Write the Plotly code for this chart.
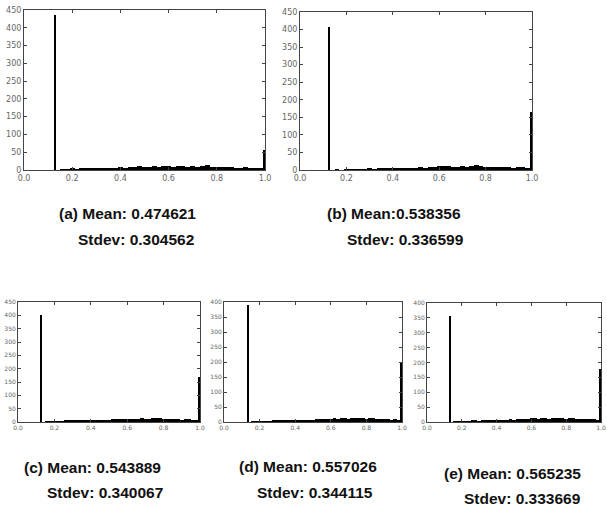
import numpy as np
import plotly.graph_objects as go

# ---------------- data ----------------
panels = ["a", "b", "c", "d", "e"]
means = ["0.474621", "0.538356", "0.543889", "0.557026", "0.565235"]
stdevs = ["0.304562", "0.336599", "0.340067", "0.344115", "0.333669"]

spike_pos = [0.13, 0.125, 0.13, 0.135, 0.135]
spike_count = [437, 408, 403, 390, 355]
edge_count = [57, 165, 168, 200, 177]
ymax = [450, 450, 450, 400, 400]

# low-level counts, bins of width 0.02 starting at 0.15
noise_a = [2, 1, 3, 2, 4, 3, 5, 4, 6, 5, 7, 6, 8, 7, 9, 8, 10, 8, 9, 11, 9, 10,
           12, 9, 11, 10, 9, 11, 9, 10, 13, 9, 9, 8, 9, 8, 7, 6, 8, 6, 7, 6]
noise_b = [1, 0, 2, 1, 2, 1, 2, 3, 2, 3, 4, 3, 4, 5, 4, 6, 5, 7, 9, 7, 9, 8,
           11, 12, 10, 9, 9, 11, 9, 10, 13, 10, 9, 9, 8, 9, 8, 9, 7, 8, 9, 6]
noise_c = [2, 1, 3, 2, 3, 4, 4, 5, 6, 5, 7, 6, 7, 8, 7, 9, 8, 9, 10, 10, 11, 10,
           12, 12, 11, 12, 14, 12, 13, 14, 16, 14, 12, 12, 11, 10, 11, 9, 10, 12, 9, 9]
noise_d = [1, 2, 1, 3, 2, 3, 4, 4, 5, 6, 5, 6, 7, 6, 8, 7, 8, 8, 10, 9, 10, 10,
           11, 12, 11, 13, 12, 11, 13, 12, 13, 12, 11, 12, 13, 11, 10, 10, 11, 8, 10, 8]
noise_e = [1, 2, 1, 3, 2, 4, 4, 3, 5, 6, 5, 7, 6, 8, 7, 8, 10, 8, 10, 9, 11, 10,
           12, 13, 11, 12, 13, 11, 13, 15, 13, 12, 11, 13, 12, 10, 11, 10, 9, 11, 10, 8]
noise = [noise_a, noise_b, noise_c, noise_d, noise_e]

x_ticks = [0.0, 0.2, 0.4, 0.6, 0.8, 1.0]

# ---------------- layout geometry (pixels) ----------------
W, H = 607, 506
boxes = [  # left, right, top, bottom in px
    (24, 265, 10, 170),
    (300, 532, 12, 170),
    (18, 200, 302, 422),
    (224, 402, 302, 422),
    (427, 601, 303, 422),
]
tick_size = [8, 8, 6, 6, 6]
captions = [  # x of line1, y line1, x of line2, y line2 (px)
    (57, 213, 76, 240),
    (325, 213, 345, 240),
    (22, 467, 45, 492),
    (237, 466, 255, 492),
    (442, 473, 462, 498),
]

fig = go.Figure()
bin_start, bin_w = 0.15, 0.02
layout_axes = {}
annotations = []
for i, p in enumerate(panels):
    xa = "x" if i == 0 else f"x{i+1}"
    ya = "y" if i == 0 else f"y{i+1}"
    centers = bin_start + bin_w * (np.arange(len(noise[i])) + 0.5)
    xs = list(centers) + [spike_pos[i], 0.997]
    ys = list(noise[i]) + [spike_count[i], edge_count[i]]
    ws = [bin_w] * len(noise[i]) + [0.008, 0.006]
    fig.add_trace(go.Bar(x=xs, y=ys, width=ws, marker=dict(color="black", line=dict(width=0)),
                         xaxis=xa, yaxis=ya, showlegend=False, hoverinfo="x+y"))
    l, r, t, b = boxes[i]
    common = dict(showline=True, mirror="ticks", linecolor="#444", linewidth=1,
                  ticks="inside", ticklen=3, tickcolor="#444", showgrid=False, zeroline=False,
                  automargin=False,
                  tickfont=dict(size=tick_size[i], color="#666", family="DejaVu Sans"))
    layout_axes["xaxis" if i == 0 else f"xaxis{i+1}"] = dict(
        domain=[l / W, r / W], anchor=ya, range=[0, 1], tickvals=x_ticks,
        tickformat=".1f", **common)
    layout_axes["yaxis" if i == 0 else f"yaxis{i+1}"] = dict(
        domain=[1 - b / H, 1 - t / H], anchor=xa, range=[0, ymax[i]], dtick=50, **common)
    cx1, cy1, cx2, cy2 = captions[i]
    sep = ":" if p == "b" else ": "
    annotations.append(dict(text=f"<b>({p}) Mean{sep}{means[i]}</b>", x=cx1 / W, y=1 - cy1 / H,
                            xref="paper", yref="paper", xanchor="left", yanchor="middle",
                            showarrow=False,
                            font=dict(size=15.5, color="#111", family="Liberation Sans")))
    annotations.append(dict(text=f"<b>Stdev: {stdevs[i]}</b>", x=cx2 / W, y=1 - cy2 / H,
                            xref="paper", yref="paper", xanchor="left", yanchor="middle",
                            showarrow=False,
                            font=dict(size=15.5, color="#111", family="Liberation Sans")))

fig.update_layout(template="none", width=W, height=H, margin=dict(l=0, r=0, t=0, b=0),
                  paper_bgcolor="white", plot_bgcolor="white", bargap=0,
                  annotations=annotations, **layout_axes)
fig.write_html("out.html", config={"displayModeBar": False},
               post_script="document.body.style.margin='0';document.body.style.padding='0';")
